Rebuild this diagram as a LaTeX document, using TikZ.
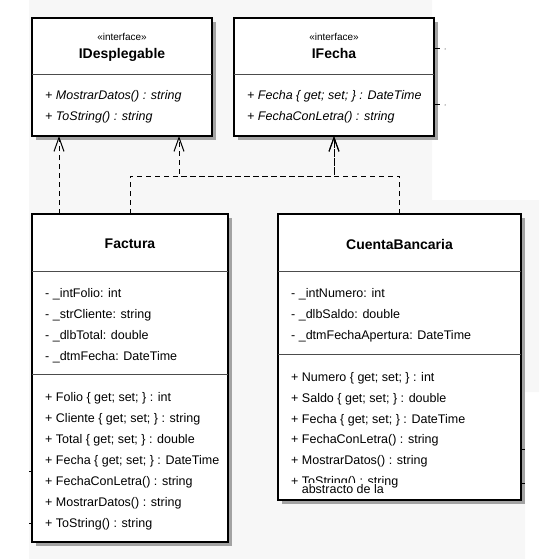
\documentclass[tikz,border=0pt]{standalone}
\usepackage{fontspec}
\setmainfont{Liberation Sans}
\usetikzlibrary{arrows.meta,shadows}

\definecolor{shade}{gray}{0.64}
\definecolor{backdrop}{gray}{0.97}
\definecolor{rule}{gray}{0.3}

\tikzset{
  classbox/.style={draw=black, line width=1.2pt, fill=white, inner sep=0pt, outer sep=0pt,
    anchor=north west,
    drop shadow={shadow xshift=4pt, shadow yshift=-4pt, fill=shade, opacity=1}},
  divider/.style={draw=rule, line width=0.9pt},
  member/.style={anchor=base west, inner sep=0pt, font=\fontsize{12.5}{15}\selectfont},
  opmember/.style={member, font=\fontsize{12.5}{15}\selectfont\itshape},
  classname/.style={anchor=base, inner sep=0pt, font=\fontsize{14}{16}\selectfont\bfseries},
  stereo/.style={anchor=base, inner sep=0pt, font=\fontsize{10}{12}\selectfont},
  realize/.style={draw=black, line width=1pt, dash pattern=on 5pt off 4pt,
    -{Straight Barb[length=14pt,width=10pt]}},
  stray/.style={draw=black, line width=1pt},
}

\begin{document}
\begin{tikzpicture}[x=1pt, y=-1pt]
  \useasboundingbox (0,0) rectangle (539,559);
  \fill[backdrop] (29,0) -- (432,0) -- (432,200) -- (539,200) -- (539,392)
    -- (525,392) -- (525,559) -- (29,559) -- cycle;

  % ---------- interface IDesplegable ----------
  \node[classbox, minimum width=180pt, minimum height=118pt] (idesp) at (32,18) {};
  \draw[divider] ([yshift=-56pt]idesp.north west) -- ([yshift=-56pt]idesp.north east);
  \node[stereo] (idesp-st) at (122,41) {«interface»};
  \node[classname] (idesp-nm) at (122,59) {IDesplegable};
  \node[opmember] (idesp-o1) at (45,100) {+ MostrarDatos() : string};
  \node[opmember] (idesp-o2) at (45,121) {+ ToString() : string};

  % ---------- interface IFecha ----------
  \node[classbox, minimum width=200pt, minimum height=118pt] (ifecha) at (234,18) {};
  \draw[divider] ([yshift=-56pt]ifecha.north west) -- ([yshift=-56pt]ifecha.north east);
  \node[stereo] (ifecha-st) at (334,41) {«interface»};
  \node[classname] (ifecha-nm) at (334,59) {IFecha};
  \node[opmember] (ifecha-o1) at (247,100) {+ Fecha \{ get; set; \} : DateTime};
  \node[opmember] (ifecha-o2) at (247,121) {+ FechaConLetra() : string};

  % ---------- class Factura ----------
  \node[classbox, minimum width=196pt, minimum height=328pt] (fac) at (32,214) {};
  \draw[divider] ([yshift=-57pt]fac.north west) -- ([yshift=-57pt]fac.north east);
  \draw[divider] ([yshift=-160pt]fac.north west) -- ([yshift=-160pt]fac.north east);
  \node[classname] (fac-nm) at (130,248) {Factura};
  \node[member] (fac-a1) at (45,297.5) {- \_intFolio: int};
  \node[member] (fac-a2) at (45,318.5) {- \_strCliente: string};
  \node[member] (fac-a3) at (45,339.5) {- \_dlbTotal: double};
  \node[member] (fac-a4) at (45,360.5) {- \_dtmFecha: DateTime};
  \node[member] (fac-o1) at (45,401.5) {+ Folio \{ get; set; \} : int};
  \node[member] (fac-o2) at (45,422.5) {+ Cliente \{ get; set; \} : string};
  \node[member] (fac-o3) at (45,443.5) {+ Total \{ get; set; \} : double};
  \node[member] (fac-o4) at (45,464.5) {+ Fecha \{ get; set; \} : DateTime};
  \node[member] (fac-o5) at (45,485.5) {+ FechaConLetra() : string};
  \node[member] (fac-o6) at (45,506.5) {+ MostrarDatos() : string};
  \node[member] (fac-o7) at (45,527.5) {+ ToString() : string};

  % ---------- class CuentaBancaria ----------
  \node[classbox, minimum width=243pt, minimum height=286pt] (cb) at (278,214) {};
  \draw[divider] ([yshift=-57pt]cb.north west) -- ([yshift=-57pt]cb.north east);
  \draw[divider] ([yshift=-140pt]cb.north west) -- ([yshift=-140pt]cb.north east);
  \node[classname] (cb-nm) at (399.5,249) {CuentaBancaria};
  \node[member] (cb-a1) at (291,297) {- \_intNumero: int};
  \node[member] (cb-a2) at (291,318) {- \_dlbSaldo: double};
  \node[member] (cb-a3) at (291,339) {- \_dtmFechaApertura: DateTime};
  \node[member] (cb-o1) at (291,381.5) {+ Numero \{ get; set; \} : int};
  \node[member] (cb-o2) at (291,402.3) {+ Saldo \{ get; set; \} : double};
  \node[member] (cb-o3) at (291,423.1) {+ Fecha \{ get; set; \} : DateTime};
  \node[member] (cb-o4) at (291,443.9) {+ FechaConLetra() : string};
  \node[member] (cb-o5) at (291,464.7) {+ MostrarDatos() : string};
  \node[member] (cb-o6) at (291,485.5) {+ ToString() : string};
  \node[member, fill=white, inner sep=0.6pt] (cb-note) at (301,493) {abstracto de la};

  % ---------- realizations ----------
  \draw[realize] ([xshift=27pt]fac.north west) -- ([xshift=27pt]idesp.south west);
  \draw[realize] ([xshift=98pt]fac.north west) -- ++(0,-38) -| (ifecha.south);
  \draw[realize] (cb.north) -- ++(0,-38) -| ([xshift=147pt]idesp.south west);
  \draw[realize] (cb.north) -- ++(0,-38) -| (ifecha.south);

  % ---------- stray marks along the box edges ----------
  \draw[stray] (434,49) -- (440,49);
  \draw[stray] (434,105) -- (440,105);
  \fill (445,49) circle (0.5);
  \fill (445,105) circle (0.5);
  \draw[stray] (29,471) -- (32,471);
  \draw[stray] (29,523) -- (32,523);
  \draw[stray] (521,449) -- (525,449);
  \draw[stray] (521,483) -- (525,483);
\end{tikzpicture}
\end{document}
